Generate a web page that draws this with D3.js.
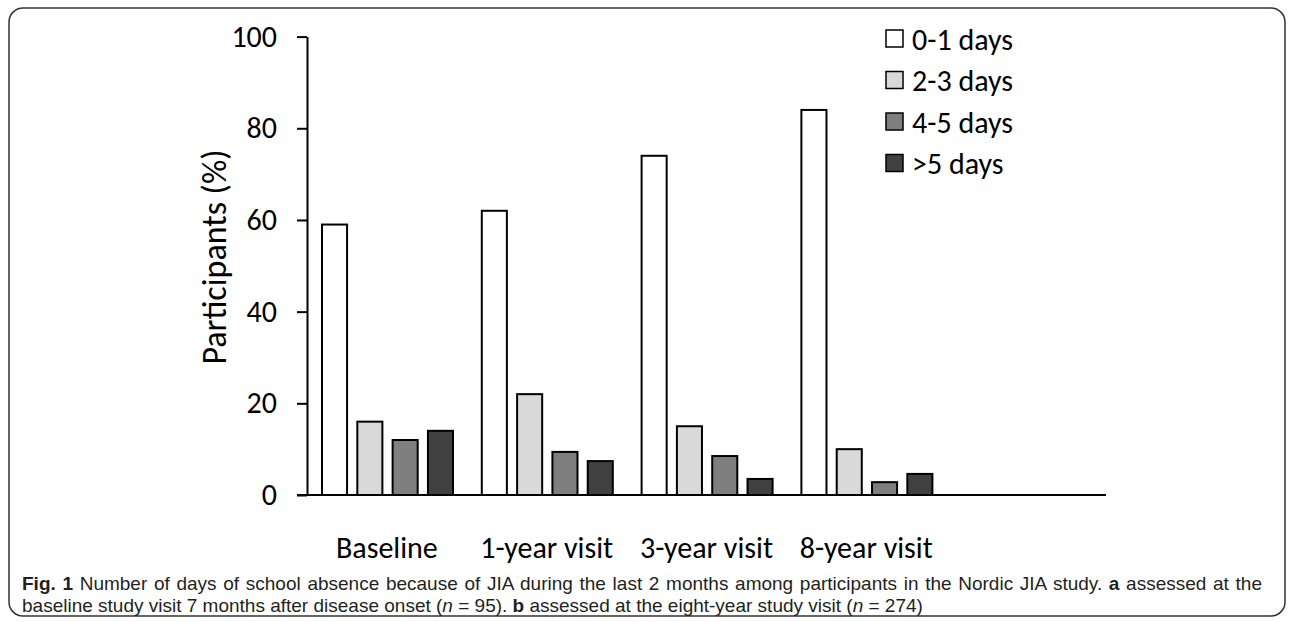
<!DOCTYPE html>
<html>
<head>
<meta charset="utf-8">
<script src="https://cdn.jsdelivr.net/npm/d3@7"></script>
<style>
  html, body { margin: 0; padding: 0; background: #fff; }
  svg { display: block; }
</style>
</head>
<body>
<svg id="chart" width="1292" height="622"></svg>
<script>
// ---- data ----
const categories = ["Baseline", "1-year visit", "3-year visit", "8-year visit", ""];
const seriesNames = ["0-1 days", "2-3 days", "4-5 days", ">5 days"];
const days0to1 = [59, 62, 74, 84];
const days2to3 = [16, 22, 15, 10];
const days4to5 = [12, 9.4, 8.5, 2.8];
const daysOver5 = [14, 7.4, 3.5, 4.6];
const yTicks = [0, 20, 40, 60, 80, 100];
const seriesColors = ["#ffffff", "#d9d9d9", "#7f7f7f", "#404040"];

const seriesValues = [days0to1, days2to3, days4to5, daysOver5];

const svg = d3.select("#chart");
const axisFont = "Carlito, Lato, 'Open Sans', sans-serif";
const capFont = "'Liberation Sans', Arial, sans-serif";
const axisSize = 30;

// frame
svg.append("rect")
  .attr("x", 9).attr("y", 8).attr("width", 1276).attr("height", 608)
  .attr("rx", 14).attr("ry", 14)
  .attr("fill", "none").attr("stroke", "#333").attr("stroke-width", 1.5);

const x0 = d3.scaleBand().domain(categories).range([307, 1106]).paddingInner(0).paddingOuter(0);
const x1 = d3.scaleBand().domain(seriesNames).range([15, 146]).paddingInner(0.29).paddingOuter(0);
const y = d3.scaleLinear().domain([0, 100]).range([495, 36.6]);

// bars
const groups = svg.append("g").selectAll("g")
  .data(categories.slice(0, 4))
  .join("g")
  .attr("transform", d => `translate(${x0(d)},0)`);

groups.selectAll("rect")
  .data((d, i) => seriesNames.map((s, j) => ({ s, v: seriesValues[j][i], c: seriesColors[j] })))
  .join("rect")
  .attr("x", d => x1(d.s))
  .attr("width", x1.bandwidth())
  .attr("y", d => y(d.v))
  .attr("height", d => y(0) - y(d.v))
  .attr("fill", d => d.c)
  .attr("stroke", "#000")
  .attr("stroke-width", 2);

// y axis
const yAxis = svg.append("g")
  .attr("transform", "translate(307,0)")
  .call(d3.axisLeft(y).tickValues(yTicks).tickSize(10).tickSizeOuter(0).tickPadding(20));
yAxis.select(".domain").attr("stroke", "#000").attr("stroke-width", 2);
yAxis.selectAll(".tick line").attr("stroke", "#000").attr("stroke-width", 2);
yAxis.selectAll(".tick text")
  .attr("font-family", axisFont).attr("font-size", axisSize).attr("fill", "#000");

// x axis line
svg.append("line")
  .attr("x1", 297).attr("x2", x0.range()[1])
  .attr("y1", y(0)).attr("y2", y(0))
  .attr("stroke", "#000").attr("stroke-width", 2);

// category labels
svg.append("g").selectAll("text")
  .data(categories.slice(0, 4))
  .join("text")
  .attr("x", d => x0(d) + x0.bandwidth() / 2)
  .attr("y", 558)
  .attr("text-anchor", "middle")
  .attr("font-family", axisFont).attr("font-size", axisSize)
  .text(d => d);

// y label
svg.append("text")
  .attr("transform", "translate(226, 257) rotate(-90)")
  .attr("text-anchor", "middle")
  .attr("font-family", axisFont).attr("font-size", 34)
  .text("Participants (%)");

// legend
const legend = svg.append("g").selectAll("g")
  .data(seriesNames)
  .join("g")
  .attr("transform", (d, i) => `translate(886, ${39 + i * 41.5})`);
legend.append("rect")
  .attr("x", 0).attr("y", -9).attr("width", 17).attr("height", 17)
  .attr("fill", (d, i) => seriesColors[i])
  .attr("stroke", "#000").attr("stroke-width", 1.5);
legend.append("text")
  .attr("x", 26).attr("y", 0).attr("dy", "0.35em")
  .attr("font-family", axisFont).attr("font-size", axisSize)
  .text(d => d);

// caption (first line justified)
const cap = svg.append("g")
  .attr("transform", "translate(22,0)")
  .attr("font-family", capFont).attr("font-size", 18).attr("fill", "#231f20");

const l2 = cap.append("text").attr("x", 0).attr("y", 612);
l2.append("tspan").text("baseline study visit 7 months after disease onset (");
l2.append("tspan").attr("font-style", "italic").text("n");
l2.append("tspan").text(" = 95). ");
l2.append("tspan").attr("font-weight", "bold").text("b");
l2.append("tspan").text(" assessed at the eight-year study visit (");
l2.append("tspan").attr("font-style", "italic").text("n");
l2.append("tspan").text(" = 274)");
const capSize = Math.min(19, 18 * 908 / l2.node().getComputedTextLength());
cap.attr("font-size", capSize);

const l1 = cap.append("text").attr("x", 0).attr("y", 589.5);
l1.append("tspan").attr("font-weight", "bold").text("Fig. 1");
l1.append("tspan").text(" Number of days of school absence because of JIA during the last 2 months among participants in the Nordic JIA study. ");
l1.append("tspan").attr("font-weight", "bold").text("a");
l1.append("tspan").text(" assessed at the");
const natural = l1.node().getComputedTextLength();
const spaces = (l1.text().match(/ /g) || []).length;
l1.attr("word-spacing", Math.max(0, (1240 - natural) / spaces));
</script>
</body>
</html>
